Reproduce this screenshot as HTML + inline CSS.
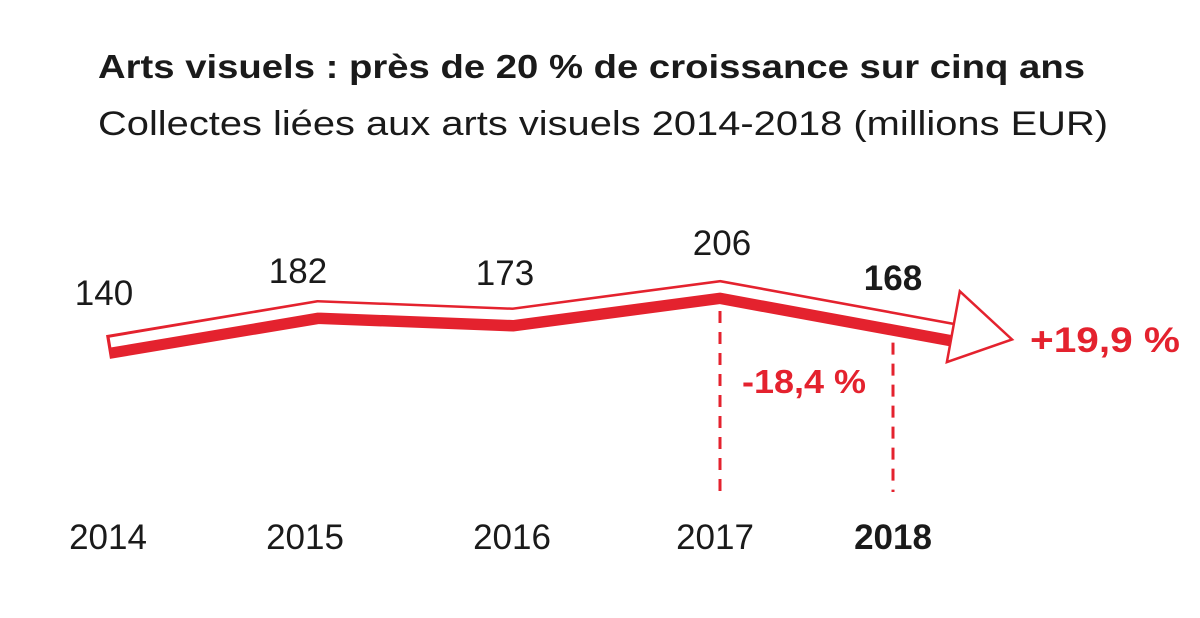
<!DOCTYPE html>
<html><head><meta charset="utf-8"><style>
body{margin:0;background:#fff;width:1200px;height:613px;overflow:hidden;font-family:"Liberation Sans",sans-serif}
</style></head><body>
<svg width="1200" height="613">
<text x="98" y="78" font-size="33" font-weight="bold" fill="#1a1a1a" textLength="987" lengthAdjust="spacingAndGlyphs">Arts visuels : près de 20 % de croissance sur cinq ans</text>
<text x="98" y="135" font-size="34" fill="#1a1a1a" textLength="1010" lengthAdjust="spacingAndGlyphs">Collectes liées aux arts visuels 2014-2018 (millions EUR)</text>
<g id="g"></g>
</svg>
<script>
const years=["2014","2015","2016","2017","2018"];
const values=[140,182,173,206,168];
const xs=[108,318,513,720,893];
const red="#e4222e";
const y=v=>347-(v-140)*55/66;
const g=document.getElementById('g');
const NS="http://www.w3.org/2000/svg";
function mk(t,a){const e=document.createElementNS(NS,t);for(const k in a)e.setAttribute(k,a[k]);g.appendChild(e);return e;}
[3,4].forEach(i=>{
 const l=mk('line',{x1:xs[i],x2:xs[i],y1:y(values[i])-2,y2:492,stroke:red,'stroke-width':3,'stroke-dasharray':'12 9'});
 
 
});
const dx=xs[4]-xs[3],dy=y(values[4])-y(values[3]);
const ang=Math.atan2(dy,dx);
const ex=953,ey=y(values[4])+dy/dx*(ex-xs[4]);
let pts=xs.map((x,i)=>[x,y(values[i])]);pts.push([ex,ey]);
const d=pts.map((p,i)=>(i?'L':'M')+p[0]+' '+p[1]).join(' ');
const band=mk('path',{d:d,fill:'none',stroke:red,'stroke-width':24,'stroke-linejoin':'miter'});


const d2=pts.map((p,i)=>(i?'L':'M')+(p[0]+(i==0?2.5:0))+' '+(p[1]-4.5)).join(' ');
const w=mk('path',{d:d2,fill:'none',stroke:'#fff','stroke-width':10,'stroke-linejoin':'miter'});


const c=Math.cos(ang),s=Math.sin(ang);
const P=(a,b)=>[ex+a*c-b*s,ey-6+a*s+b*c];
const hp=[P(0,-38),P(60,0),P(0,34)].map(p=>p.join(',')).join(' ');
const head=mk('polygon',{points:hp,fill:'#fff',stroke:red,'stroke-width':2.5,'stroke-linejoin':'miter'});


const lx=[104,298,505,722,893];
const ly=[305,283,285,255,290];
const yx=[108,305,512,715,893];
values.forEach((v,i)=>{
 const t=mk('text',{x:lx[i],y:ly[i],'font-size':35,'text-anchor':'middle',fill:'#1a1a1a','font-weight':i==4?'bold':'normal'});
 t.textContent=v;
 
 
 const yl=mk('text',{x:yx[i],y:549,'font-size':35,'text-anchor':'middle',fill:'#1a1a1a','font-weight':i==4?'bold':'normal'});
 yl.textContent=years[i];
 
 
});
const p1=mk('text',{x:742,y:393,'font-size':33,'font-weight':'bold',fill:red,textLength:124,lengthAdjust:'spacingAndGlyphs'});
p1.textContent="-18,4 %";


const p2=mk('text',{x:1030,y:352,'font-size':35,'font-weight':'bold',fill:red,textLength:150,lengthAdjust:'spacingAndGlyphs'});
p2.textContent="+19,9 %";


</script>
</body></html>
